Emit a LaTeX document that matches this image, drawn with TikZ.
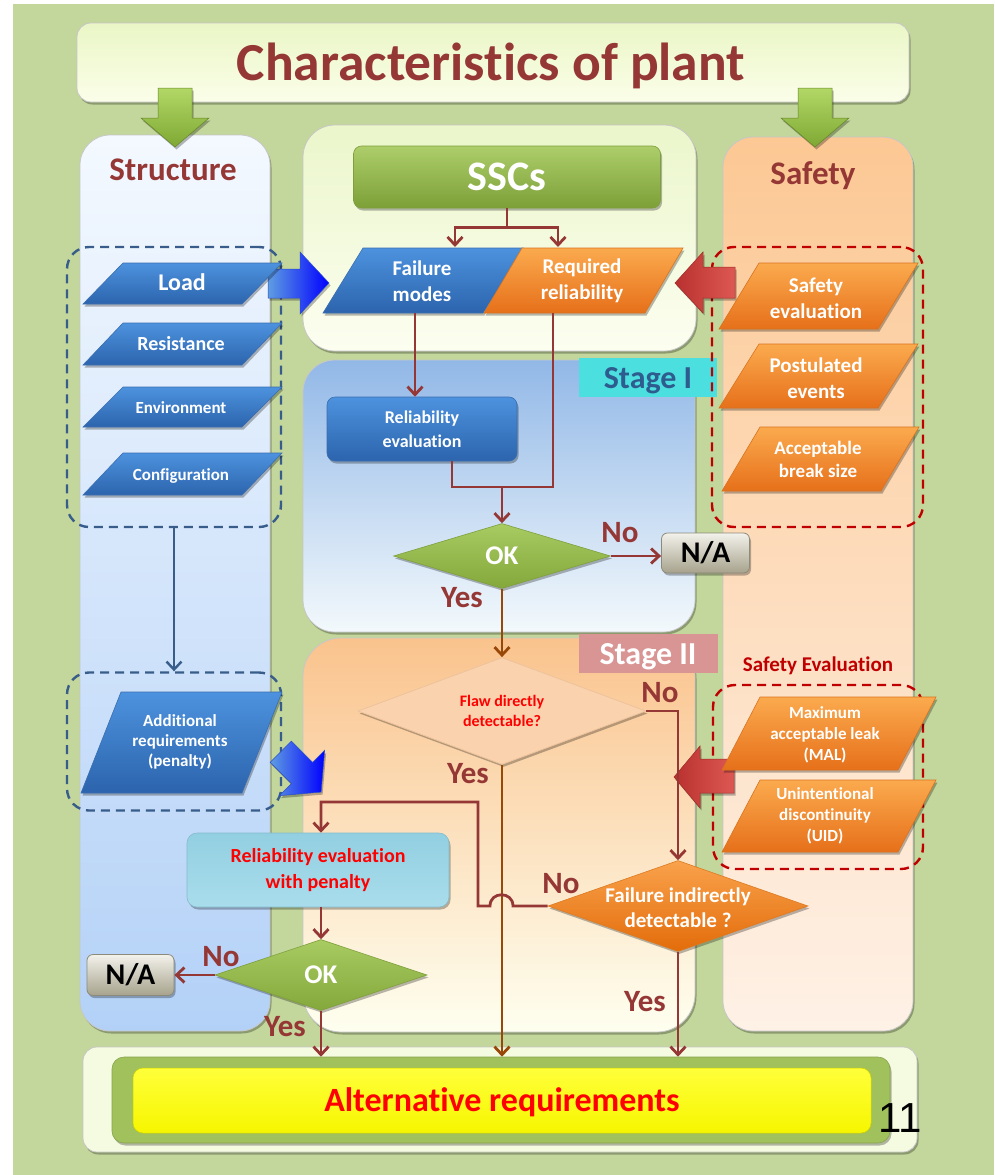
\documentclass[tikz,border=0pt]{standalone}
\usepackage{fontspec}
\setmainfont{Carlito}[Ligatures=NoCommon]
\newfontfamily\numfont{Liberation Sans}
\usetikzlibrary{arrows.meta,shapes.geometric,shadows}

\definecolor{pagegreen}{HTML}{C3D69B}
\definecolor{headred}{HTML}{953735}
\definecolor{flowred}{HTML}{953735}
\definecolor{flowbrown}{HTML}{984807}
\definecolor{blueTop}{HTML}{4D92DE}
\definecolor{blueBot}{HTML}{2C64AD}
\definecolor{blueEdge}{HTML}{3A6EB0}
\definecolor{orTop}{HTML}{FBAA4E}
\definecolor{orBot}{HTML}{E6701A}
\definecolor{orEdge}{HTML}{D9731E}
\definecolor{dashblue}{HTML}{385D8A}
\definecolor{dashred}{HTML}{C00000}
\definecolor{okTop}{HTML}{A8CB62}
\definecolor{okBot}{HTML}{84A83B}
\definecolor{okEdge}{HTML}{7F9F3C}
\definecolor{titleTop}{HTML}{EAF6C6}
\definecolor{titleBot}{HTML}{FBFEE9}
\definecolor{structTop}{HTML}{F4F9FF}
\definecolor{structBot}{HTML}{B3D1F7}
\definecolor{safeTop}{HTML}{FCC894}
\definecolor{safeBot}{HTML}{FEF1E6}
\definecolor{sscTop}{HTML}{EBF6CB}
\definecolor{sscBot}{HTML}{FCFEF0}
\definecolor{sOneTop}{HTML}{92B8E7}
\definecolor{sOneMid}{HTML}{C3DBF3}
\definecolor{sOneBot}{HTML}{F3F9FC}
\definecolor{sTwoTop}{HTML}{FAC38D}
\definecolor{sTwoMid}{HTML}{FDEBC0}
\definecolor{sTwoBot}{HTML}{FEFFF0}
\definecolor{greenTop}{HTML}{B2D766}
\definecolor{greenBot}{HTML}{7EA833}
\definecolor{naTop}{HTML}{F3F2EB}
\definecolor{naBot}{HTML}{A6A28C}
\definecolor{naEdge}{HTML}{8C8A7A}
\definecolor{penTop}{HTML}{92CFE1}
\definecolor{penBot}{HTML}{A9DDEC}
\definecolor{penEdge}{HTML}{84BBCB}
\definecolor{flawFill}{HTML}{FAD2AE}
\definecolor{flawEdge}{HTML}{EDC39B}
\definecolor{fidTop}{HTML}{F9A24C}
\definecolor{fidBot}{HTML}{E36C0A}
\definecolor{fidEdge}{HTML}{DC7A22}
\definecolor{cyanTag}{HTML}{4BDFDF}
\definecolor{pinkTag}{HTML}{D99594}
\definecolor{stageblue}{HTML}{2F5C8F}
\definecolor{frameGreen}{HTML}{A0C15C}
\definecolor{frameOuter}{HTML}{F5FBE0}
\definecolor{yellowTop}{HTML}{FFFF3A}
\definecolor{yellowBot}{HTML}{F6F600}
\definecolor{redTip}{HTML}{B8312E}
\definecolor{redTail}{HTML}{DE5853}
\definecolor{redEdge}{HTML}{9E2A27}

\newcommand\fsz[2]{\fontsize{#1pt}{#2pt}\selectfont}
% slanted data box: bottom-left x, bottom-right x, top y, bottom y, slant, style
\newcommand\slantbox[6]{\path[#6] (#1,#4) -- (#2,#4) -- ({#2+#5},#3) -- ({#1+#5},#3) -- cycle;}

\begin{document}
\begin{tikzpicture}[x=1pt,y=-1pt,
  softshadow/.style={drop shadow={shadow xshift=1.5pt,shadow yshift=-2.5pt,opacity=0.28,fill=black}},
  panel/.style={rounded corners=32pt,draw=black!22,line width=0.8pt,softshadow},
  bluepara/.style={top color=blueTop,bottom color=blueBot,draw=blueEdge,line width=0.6pt,softshadow},
  orpara/.style={top color=orTop,bottom color=orBot,draw=orEdge,line width=0.6pt,softshadow},
  wtxt/.style={text=white,align=center,inner sep=0pt},
  one/.style={text height=#1,text depth=0pt,inner sep=0pt},
  lab/.style={one=20pt,text=headred,font=\bfseries\fsz{31}{36}},
  conn/.style={draw=flowred,line width=2.8pt,-{Straight Barb[length=8pt,width=15pt]}},
  connbrown/.style={conn,draw=flowbrown},
  wire/.style={draw=flowred,line width=2.8pt},
  dashgrp/.style={rectangle,draw,dash pattern=on 9pt off 6pt,line width=2.4pt,rounded corners=22pt,inner sep=0pt},
  dia/.style={diamond,inner sep=0pt,softshadow},
  nabox/.style={rectangle,rounded corners=6pt,top color=naTop,bottom color=naBot,draw=naEdge,line width=0.8pt,
    minimum width=88pt,minimum height=40pt,inner sep=0pt,font=\bfseries\fsz{30}{34},text height=19.3pt,text depth=0pt,softshadow},
  greenarrow/.style={top color=greenTop,bottom color=greenBot,draw=greenBot!80!black,line width=0.5pt,softshadow},
  bluearrow/.style={left color=blueTop!90!white,right color=blue,draw=blueEdge!70!blue,line width=0.5pt,softshadow},
  redarrow/.style={left color=redTip,right color=redTail,draw=redEdge,line width=0.5pt,softshadow},
]
\useasboundingbox (0,0) rectangle (994,1175);
\fill[white] (0,0) rectangle (994,1175);
\fill[pagegreen] (13,4) rectangle (994,1175);

% ---------- heading ----------
\path[panel,rounded corners=14pt,top color=titleTop,bottom color=titleBot] (77,23) rectangle (909,102);
\node[font=\bfseries\fsz{53.5}{60},text=headred,one=34.4pt] (title) at (491,63.5) {Characteristics of plant};

% ---------- columns and panels ----------
\path[panel,rounded corners=30pt,top color=structTop,bottom color=structBot] (80,135) rectangle (270,1031);
\path[panel,rounded corners=30pt,top color=safeTop,bottom color=safeBot] (723,137) rectangle (913,1031);
\path[panel,top color=sscTop,bottom color=sscBot] (303,125) rectangle (696,351);
\path[panel,top color=sOneTop,middle color=sOneMid,bottom color=sOneBot] (303,360) rectangle (695,632);
\path[panel,rounded corners=38pt,top color=sTwoTop,middle color=sTwoMid,bottom color=sTwoBot] (303,638) rectangle (695,1032);

% down arrows from the heading
\path[greenarrow] (158,88) -- (192,88) -- (192,118) -- (209,118) -- (175,147) -- (141,118) -- (158,118) -- cycle;
\path[greenarrow] (798,88) -- (832,88) -- (832,118) -- (849,118) -- (815,147) -- (781,118) -- (798,118) -- cycle;

\node[font=\bfseries\fsz{33}{38},text=headred,one=21.3pt] (structure) at (173,170) {Structure};
\node[font=\bfseries\fsz{33}{38},text=headred,one=21.3pt] (safety) at (813,174) {Safety};

% stage tags
\node[rectangle,fill=cyanTag,minimum width=138pt,minimum height=39pt,inner sep=0pt] (stageone) at (648,377.5) {};
\node[font=\bfseries\fsz{32}{36},text=stageblue,one=20.6pt] at (648,378) {Stage I};
\node[rectangle,fill=pinkTag,minimum width=139pt,minimum height=39pt,inner sep=0pt] (stagetwo) at (648.5,653.5) {};
\node[font=\bfseries\fsz{32}{36},text=white,one=20.6pt] at (648,654) {Stage II};

% ---------- dashed groups ----------
\node[dashgrp,draw=dashblue,minimum width=214pt,minimum height=280pt] (grp1) at (174,387) {};
\node[dashgrp,draw=dashblue,minimum width=214pt,minimum height=138pt] (grp2) at (174,741.5) {};
\node[dashgrp,draw=dashred,minimum width=211pt,minimum height=280pt] (grp3) at (817.5,387) {};
\node[dashgrp,draw=dashred,minimum width=210pt,minimum height=184pt] (grp4) at (818,777) {};
\node[font=\bfseries\fsz{21}{25},text=dashred,one=13.5pt] (seval) at (818,665) {Safety Evaluation};

\draw[draw=dashblue,line width=2.4pt,-{Straight Barb[length=8pt,width=15pt]}] (grp1.south) -- (grp2.north);

% ---------- block arrows ----------
\path[bluearrow] (268,269) -- (300,269) -- (300,252) -- (329,283) -- (300,314) -- (300,298) -- (268,298) -- cycle;
\begin{scope}[shift={(302,773)},rotate=-45]
  \path[bluearrow] (-30,-15) -- (0,-15) -- (0,-32) -- (27,0) -- (0,32) -- (0,15) -- (-30,15) -- cycle;
\end{scope}
\path[redarrow] (735,267) -- (703,267) -- (703,252) -- (675,283) -- (703,313) -- (703,298) -- (735,298) -- cycle;
\path[redarrow] (734,759) -- (700,759) -- (700,746) -- (674,777) -- (700,808) -- (700,793) -- (734,793) -- cycle;

% ---------- structure inputs ----------
\slantbox{83}{242}{263}{304}{40}{bluepara}
\slantbox{83}{242}{323}{365}{40}{bluepara}
\slantbox{83}{242}{387}{427}{40}{bluepara}
\slantbox{83}{242}{453}{495}{40}{bluepara}
\slantbox{81}{242}{692}{793}{40}{bluepara}
\node[wtxt,font=\bfseries\fsz{24}{28},one=15.5pt] (load) at (182,283) {Load};
\node[wtxt,font=\bfseries\fsz{20}{24},one=12.9pt] (resist) at (181,344) {Resistance};
\node[wtxt,font=\bfseries\fsz{17}{20},one=11pt] (env) at (181,408) {Environment};
\node[wtxt,font=\bfseries\fsz{17}{20},one=11pt] (config) at (181,475) {Configuration};
\node[wtxt,font=\bfseries\fsz{17}{20}] (addreq) at (180,742) {Additional\\requirements\\(penalty)};

% ---------- safety inputs ----------
\slantbox{719}{878}{263}{329}{40}{orpara}
\slantbox{719}{878}{344}{408}{40}{orpara}
\slantbox{722}{881}{427}{491}{38}{orpara}
\slantbox{722}{898}{697}{770}{38}{orpara}
\slantbox{722}{898}{780}{852}{38}{orpara}
\node[wtxt,font=\bfseries\fsz{21}{26}] (safeeval) at (816,298) {Safety\\evaluation};
\node[wtxt,font=\bfseries\fsz{21}{26}] (postev) at (816,378) {Postulated\\events};
\node[wtxt,font=\bfseries\fsz{19}{23}] (breaksz) at (818,459) {Acceptable\\break size};
\node[wtxt,font=\bfseries\fsz{17}{21}] (mal) at (825,735) {Maximum\\acceptable leak\\(MAL)};
\node[wtxt,font=\bfseries\fsz{17}{21}] (uid) at (825,816) {Unintentional\\discontinuity\\(UID)};

% ---------- SSCs ----------
\node[rectangle,rounded corners=8pt,top color=okTop!95!white,bottom color=okBot!95!black,draw=okEdge,line width=0.6pt,
  minimum width=307pt,minimum height=62pt,text=white,font=\bfseries\fsz{42}{48},one=27pt,softshadow] (ssc) at (507,177) {SSCs};
\slantbox{323}{483}{248}{313}{40}{bluepara}
\slantbox{484}{645}{248}{313}{38}{orpara}
\node[wtxt,font=\bfseries\fsz{21}{26}] (fm) at (422,281) {Failure\\modes};
\node[wtxt,font=\bfseries\fsz{21}{26}] (rr) at (582,281) {Required\\reliability};
\coordinate (fm-in) at (455,247);
\coordinate (rr-in) at (558,247);
\coordinate (fm-out) at (415,313);
\coordinate (rr-out) at (553,313);

% ---------- stage I ----------
\node[rectangle,rounded corners=8pt,top color=blueTop,bottom color=blueBot,draw=blueEdge,line width=0.6pt,
  minimum width=190pt,minimum height=64pt,wtxt,font=\bfseries\fsz{18}{24},softshadow] (relev) at (422,429) {Reliability\\evaluation};
\node[dia,top color=okTop,bottom color=okBot,draw=okEdge,line width=0.6pt,minimum width=217pt,minimum height=65pt] (ok1) at (502,556) {};
\node[wtxt,font=\bfseries\fsz{27}{30},one=17.4pt] at (ok1) {OK};
\node[nabox] (na1) at (705.5,553) {N/A};

% ---------- stage II ----------
\node[dia,fill=flawFill,draw=flawEdge,line width=0.8pt,minimum width=288pt,minimum height=107pt] (flaw) at (502,711) {};
\node[text=red,align=center,inner sep=0pt,font=\bfseries\fsz{16}{20}] at (502,711) {Flaw directly\\detectable?};
\node[dia,top color=fidTop,bottom color=fidBot,draw=fidEdge,line width=0.6pt,minimum width=260pt,minimum height=91pt] (fid) at (678,906) {};
\node[wtxt,font=\bfseries\fsz{21}{25}] at (678,908) {Failure indirectly\\detectable ?};
\node[rectangle,rounded corners=10pt,top color=penTop,bottom color=penBot,draw=penEdge,line width=0.6pt,
  minimum width=262pt,minimum height=74pt,text=red,align=center,font=\bfseries\fsz{20}{26},softshadow] (pen) at (318,870) {Reliability evaluation\\with penalty};
\node[dia,top color=okTop,bottom color=okBot,draw=okEdge,line width=0.6pt,minimum width=212pt,minimum height=71pt] (ok2) at (321,975) {};
\node[wtxt,font=\bfseries\fsz{27}{30},one=17.4pt] at (ok2) {OK};
\node[nabox,minimum width=87pt,minimum height=41pt] (na2) at (130.5,975) {N/A};

% ---------- result ----------
\path[panel,rounded corners=14pt,fill=frameOuter] (83,1047) rectangle (917,1152);
\node[rectangle,rounded corners=12pt,fill=frameGreen,draw=frameGreen!85!black,line width=0.6pt,
  minimum width=778pt,minimum height=86pt,softshadow] (alt) at (501,1100) {};
\node[rectangle,rounded corners=10pt,top color=yellowTop,bottom color=yellowBot,draw=yellowBot!85!black,line width=0.5pt,
  minimum width=738pt,minimum height=65pt,text=red,font=\bfseries\fsz{34}{38},text height=21.9pt,text depth=0pt] (altin) at (502,1100.5) {Alternative requirements};
\node[font=\numfont\fsz{42}{46},text=black,text height=30pt,text depth=0pt,inner sep=0pt] (pagenum) at (900,1117) {11};

% ---------- connectors ----------
\draw[conn] (ssc.south) -- ++(0,19) -| (fm-in);
\draw[conn] (ssc.south) -- ++(0,19) -| (rr-in);
\draw[conn] (fm-out) -- (fm-out |- relev.north);
\coordinate (junc) at (502,487);
\draw[wire] ([xshift=30pt]relev.south) |- (rr-out |- junc) -- (rr-out);
\draw[conn] (junc) -- (ok1.north);
\draw[conn] (ok1.east) -- (ok1.east -| na1.west);
\draw[connbrown] (ok1.south) -- (flaw.north);
\draw[conn] (flaw.east) -| (fid.north);
\draw[connbrown] (flaw.south) -- (flaw.south |- alt.north);
\draw[conn] (fid.south) -- (fid.south |- alt.north);
\draw[conn] (fid.west) -- (513,906) .. controls (513,891) and (490,891) .. (490,906) -- (478,906) -- (478,802) -| ([xshift=3pt]pen.north);
\draw[conn] ([xshift=3pt]pen.south) -- (ok2.north);
\draw[conn] (ok2.west) -- (na2.east);
\draw[conn] (ok2.south) -- (ok2.south |- alt.north);

% ---------- branch labels ----------
\node[lab] at (620,532) {No};
\node[lab] at (462,597) {Yes};
\node[lab] at (660,692) {No};
\node[lab] at (468,773) {Yes};
\node[lab] at (561,883) {No};
\node[lab] at (645,1001) {Yes};
\node[lab] at (221,956) {No};
\node[lab] at (285,1026) {Yes};
\end{tikzpicture}
\end{document}
